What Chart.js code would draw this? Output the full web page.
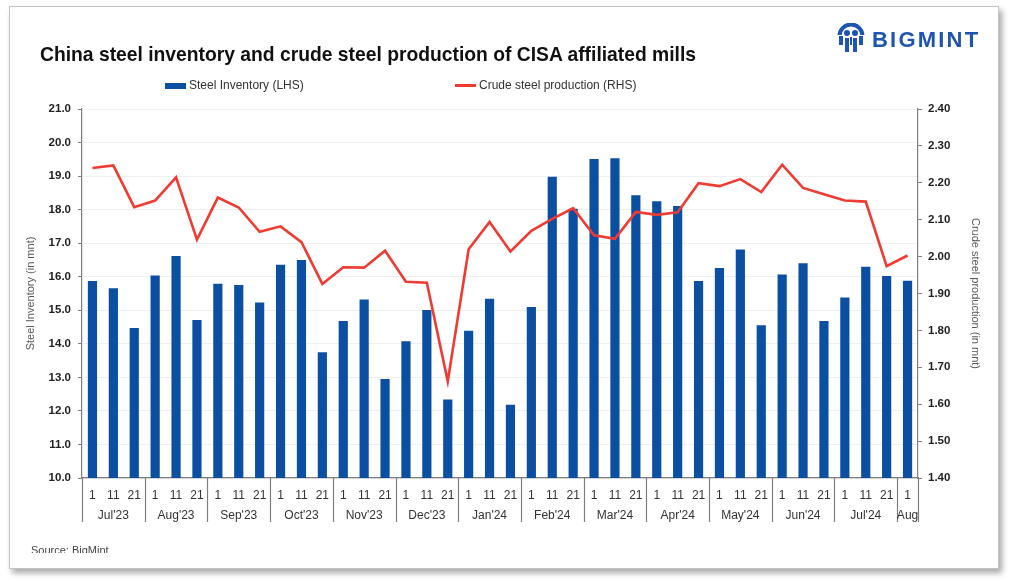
<!DOCTYPE html>
<html>
<head>
<meta charset="utf-8">
<script src="https://cdn.jsdelivr.net/npm/chart.js@4"></script>
<style>
  html, body { margin: 0; padding: 0; background: #fff; }
  body { width: 1010px; height: 581px; position: relative; overflow: hidden; font-family: "Liberation Sans", Arial, sans-serif; }
  .card { position: absolute; left: 9px; top: 6px; width: 988px; height: 561px; background: #fff;
          border: 1px solid #c4c4c4; box-shadow: 3px 4px 6px rgba(0,0,0,0.35); }
  #chart { position: absolute; left: 0; top: 0; }
  .title { position: absolute; left: 40px; top: 44px; font-size: 19.3px; font-weight: bold; color: #111; }
  .legend { position: absolute; top: 78px; font-size: 12px; color: #333; }
  .legend span.sw { display: inline-block; width: 21px; vertical-align: middle; margin-right: 3px; }
  .logo { position: absolute; left: 835px; top: 23px; height: 32px; }
  .logo .txt { position: absolute; left: 37px; top: 4px; font-size: 22px; font-weight: bold; letter-spacing: 2.2px; color: #1d55b0; }
  .source { position: absolute; left: 31px; top: 544px; height: 9px; overflow: hidden; font-size: 11px; color: #444; }
</style>
</head>
<body>
<div class="card"></div>
<canvas id="chart" width="1010" height="581"></canvas>
<div class="title">China steel inventory and crude steel production of CISA affiliated mills</div>
<div class="legend" style="left:165px"><span class="sw" style="height:6px;background:#0b4fa3"></span>Steel Inventory (LHS)</div>
<div class="legend" style="left:455px"><span class="sw" style="height:3px;background:#f03b32"></span>Crude steel production (RHS)</div>
<div class="logo">
  <svg width="32" height="32" viewBox="0 0 32 32">
    <circle cx="16" cy="13" r="11.5" fill="none" stroke="#1d55b0" stroke-width="4"/>
    <rect x="2" y="12" width="28" height="20" fill="#fff"/>
    <path d="M4 13 v9 h4 v-9z M24 13 v9 h4 v-9z" fill="#1d55b0"/>
    <circle cx="12" cy="10" r="3" fill="#1d55b0"/>
    <circle cx="20" cy="10" r="3" fill="#1d55b0"/>
    <path d="M10 15 h4 v14 h-4z M18 15 h4 v14 h-4z M15 14 h2 v8 h-2z" fill="#1d55b0"/>
  </svg>
  <div class="txt">BIGMINT</div>
</div>
<div class="source">Source: BigMint</div>
<script>
// months, each with its ten-day periods
const months = ["Jul'23", "Aug'23", "Sep'23", "Oct'23", "Nov'23", "Dec'23", "Jan'24",
                "Feb'24", "Mar'24", "Apr'24", "May'24", "Jun'24", "Jul'24", "Aug"];
const monthPeriods = [3, 3, 3, 3, 3, 3, 3, 3, 3, 3, 3, 3, 3, 1];
const periodLabels = ['1', '11', '21'];

// steel inventory, mnt (left axis)
const steelInventory = [
  15.87, 15.66, 14.47, 16.04, 16.62, 14.71, 15.79, 15.75, 15.23, 16.36,
  16.50, 13.75, 14.68, 15.32, 12.95, 14.08, 15.01, 12.34, 14.39, 15.34,
  12.18, 15.10, 18.98, 18.03, 19.51, 19.53, 18.43, 18.25, 18.11, 15.87,
  16.26, 16.81, 14.55, 16.07, 16.40, 14.68, 15.38, 16.30, 16.02, 15.88
];

// crude steel production, mnt (right axis)
const crudeProduction = [
  2.240, 2.247, 2.134, 2.152, 2.215, 2.046, 2.160, 2.133, 2.067, 2.082,
  2.039, 1.926, 1.971, 1.970, 2.016, 1.932, 1.929, 1.662, 2.020, 2.094,
  2.014, 2.070, 2.102, 2.131, 2.058, 2.048, 2.121, 2.113, 2.120, 2.199,
  2.191, 2.210, 2.175, 2.249, 2.186, 2.169, 2.152, 2.149, 1.974, 2.003
];

const labels = [];
monthPeriods.forEach(n => {
  for (let i = 0; i < n; i++) labels.push(periodLabels[i]);
});

// draws the month row under the day labels, with separators between months
const monthAxis = {
  id: 'monthAxis',
  afterDraw(chart) {
    const x = chart.scales.x;
    const ctx = chart.ctx;
    const bottom = chart.chartArea.bottom;
    const half = (x.getPixelForValue(1) - x.getPixelForValue(0)) / 2;
    ctx.save();
    ctx.strokeStyle = '#7f7f7f';
    ctx.lineWidth = 1.2;
    ctx.fillStyle = '#333';
    ctx.font = '12px "Liberation Sans", Arial, sans-serif';
    ctx.textAlign = 'center';
    ctx.textBaseline = 'middle';
    let start = 0;
    months.forEach((m, k) => {
      const n = monthPeriods[k];
      const left = x.getPixelForValue(start) - half;
      const right = x.getPixelForValue(start + n - 1) + half;
      ctx.beginPath();
      ctx.moveTo(Math.round(left) + 0.5, bottom);
      ctx.lineTo(Math.round(left) + 0.5, bottom + 44);
      if (k === months.length - 1) {
        ctx.moveTo(Math.round(right) + 0.5, bottom);
        ctx.lineTo(Math.round(right) + 0.5, bottom + 44);
      }
      ctx.stroke();
      ctx.fillText(m, (left + right) / 2, bottom + 38);
      start += n;
    });
    ctx.restore();
  }
};

const ctx = document.getElementById('chart').getContext('2d');
new Chart(ctx, {
  data: {
    labels: labels,
    datasets: [
      {
        type: 'line',
        label: 'Crude steel production (RHS)',
        data: crudeProduction,
        yAxisID: 'y1',
        borderColor: '#f03b32',
        borderWidth: 2.6,
        pointRadius: 0,
        tension: 0,
        order: 0
      },
      {
        type: 'bar',
        label: 'Steel Inventory (LHS)',
        data: steelInventory,
        yAxisID: 'y',
        backgroundColor: '#0b4fa3',
        barPercentage: 0.44,
        categoryPercentage: 1,
        order: 1
      }
    ]
  },
  options: {
    responsive: false,
    animation: false,
    layout: { padding: { left: 24, right: 24, top: 109, bottom: 50 } },
    plugins: {
      legend: { display: false },
      tooltip: { enabled: false }
    },
    scales: {
      x: {
        grid: { display: false },
        border: { color: '#7f7f7f', width: 1.2 },
        ticks: {
          color: '#333',
          font: { size: 12 },
          padding: 2,
          maxRotation: 0,
          autoSkip: false
        },
        afterFit(scale) { scale.height = 53; }
      },
      y: {
        position: 'left',
        min: 10,
        max: 21,
        ticks: {
          stepSize: 1,
          color: '#222',
          font: { size: 11.5, weight: 'bold' },
          padding: 7,
          callback: v => v.toFixed(1)
        },
        grid: { color: '#f0f0f0', tickLength: 4, tickColor: '#7f7f7f' },
        border: { color: '#7f7f7f', width: 1.2 },
        title: {
          display: true,
          text: 'Steel Inventory (in mnt)',
          color: '#595959',
          font: { size: 11 },
          padding: { top: 0, bottom: 4 }
        },
        afterFit(scale) { scale.width = 58; }
      },
      y1: {
        position: 'right',
        min: 1.4,
        max: 2.4,
        ticks: {
          stepSize: 0.1,
          color: '#222',
          font: { size: 11.5, weight: 'bold' },
          padding: 6,
          callback: v => v.toFixed(2)
        },
        grid: { drawOnChartArea: false, tickLength: 4, tickColor: '#7f7f7f' },
        border: { color: '#7f7f7f', width: 1.2 },
        title: {
          display: true,
          text: 'Crude steel production (in mnt)',
          color: '#595959',
          font: { size: 11 },
          padding: { top: 4, bottom: 0 }
        },
        afterFit(scale) { scale.width = 68; }
      }
    }
  },
  plugins: [monthAxis]
});
</script>
</body>
</html>
